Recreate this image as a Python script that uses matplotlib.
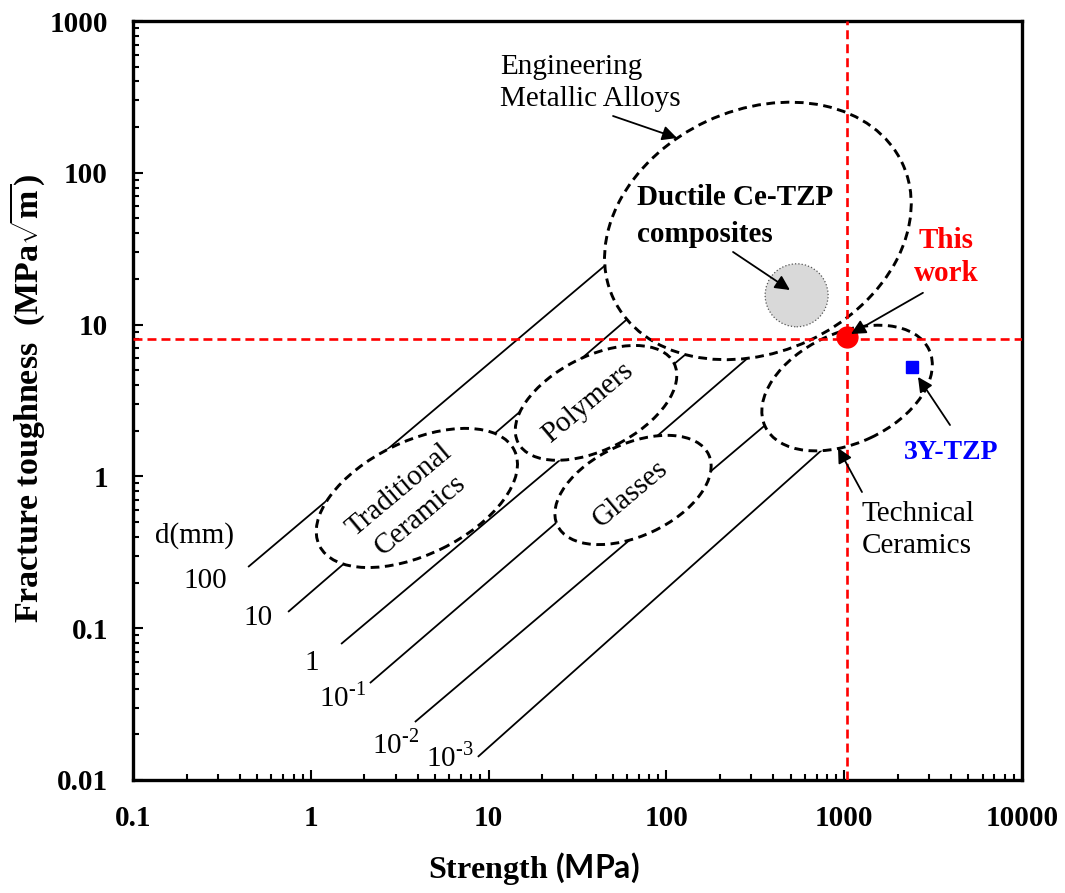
import numpy as np
import matplotlib.pyplot as plt
from matplotlib.patches import Ellipse
from matplotlib.ticker import NullFormatter
from matplotlib.transforms import ScaledTranslation

# =============================================================================
# Ashby-type map: fracture toughness vs strength
# =============================================================================

plt.rcParams["font.family"] = ["Liberation Serif", "DejaVu Serif"]
plt.rcParams["mathtext.fontset"] = "custom"
plt.rcParams["mathtext.rm"] = "Liberation Serif"
plt.rcParams["mathtext.bf"] = "Liberation Serif:bold"
plt.rcParams["mathtext.sf"] = "Lato:bold"

# -----------------------------
# Data
# -----------------------------
x_tick_values = [0.1, 1, 10, 100, 1000, 10000]
x_tick_labels = ["0.1", "1", "10", "100", "1000", "10000"]
y_tick_values = [0.01, 0.1, 1, 10, 100, 1000]
y_tick_labels = ["0.01", "0.1", "1", "10", "100", "1000"]

# material families (centre strength MPa, centre toughness MPa.m^0.5)
region_names = ["Engineering Metallic Alloys", "Polymers", "Traditional Ceramics",
                "Glasses", "Technical Ceramics"]
region_strength = [327, 40.2, 3.95, 64.9, 1038]
region_toughness = [41.4, 3.05, 0.721, 0.814, 3.82]

# flaw size lines d (mm): start and end points (strength, toughness)
d_labels = ["100", "10", "1", r"10$^{\text{-1}}$", r"10$^{\text{-2}}$", r"10$^{\text{-3}}$"]
d_start_strength = [0.444, 0.745, 1.48, 2.15, 3.85, 8.7]
d_start_tough = [0.253, 0.128, 0.0787, 0.0435, 0.0241, 0.0142]
d_end_strength = [47, 62, 135, 300, 380, 800]
d_end_tough = [25.5, 11.2, 6.7, 6.3, 2.3, 1.6]

# points
this_work = (1033, 8.3)
this_work_lines = (1033, 8.05)
y_tzp = (2415, 5.28)
ductile_ce_tzp = (540, 15.6)

# -----------------------------
# Figure
# -----------------------------
fig = plt.figure(figsize=(10.65, 8.93), dpi=100)
ax = fig.add_axes([133 / 1065, 113 / 893, 889 / 1065, 759 / 893])
ax.set_xscale("log")
ax.set_yscale("log")
ax.set_xlim(0.1, 10000)
ax.set_ylim(0.01, 1000)

# ellipse shape in pixels: width, height, angle
region_shape = [(319, 242, 25), (175, 93, 27), (217, 113, 26), (167, 92, 25), (181, 110, 25)]


def blob(x, y, w, h, ang, **kw):
    tr = fig.dpi_scale_trans + ScaledTranslation(x, y, ax.transData)
    return Ellipse((0, 0), w / 100, h / 100, angle=ang, transform=tr, **kw)


# flaw-size lines (drawn under the white-filled regions)
for i in range(len(d_labels)):
    ax.plot([d_start_strength[i], d_end_strength[i]], [d_start_tough[i], d_end_tough[i]],
            color="k", lw=1.3, zorder=1, solid_capstyle="butt")

for i in range(len(region_names)):
    w, h, ang = region_shape[i]
    ax.add_patch(blob(region_strength[i], region_toughness[i], w, h, ang,
                      facecolor="white", edgecolor="none", zorder=2))
for i in range(len(region_names)):
    w, h, ang = region_shape[i]
    ax.add_patch(blob(region_strength[i], region_toughness[i], w, h, ang,
                      facecolor="none", edgecolor="k", lw=2.1,
                      linestyle=(0, (3.0, 1.9)), zorder=3))

# red guide lines
ax.axvline(this_work_lines[0], color="red", lw=1.9, linestyle=(0, (3.4, 1.9)), zorder=4)
ax.axhline(this_work_lines[1], color="red", lw=1.9, linestyle=(0, (3.4, 1.9)), zorder=4)

# Ductile Ce-TZP composites (grey disc)
ax.add_patch(blob(ductile_ce_tzp[0], ductile_ce_tzp[1], 63, 63, 0,
                  facecolor="#d9d9d9", edgecolor="#555555", lw=0.9,
                  linestyle=":", zorder=5))

ax.plot(*this_work, "o", color="red", ms=15, zorder=6)
ax.plot(*y_tzp, "s", color="blue", ms=8, zorder=6)

# -----------------------------
# Labels and arrows
# -----------------------------
lab = dict(fontsize=21, zorder=7)
ax.text(11.6, 391, "Engineering\nMetallic Alloys", ha="left", va="center",
        linespacing=1.34, **lab)
ax.text(3.61, 0.668, "Traditional\nCeramics", ha="center", va="center",
        rotation=40, linespacing=1.3, **lab)
ax.text(36.2, 3.05, "Polymers", ha="center", va="center", rotation=40, **lab)
ax.text(62.4, 0.766, "Glasses", ha="center", va="center", rotation=40, **lab)
ax.text(1259, 0.444, "Technical\nCeramics", ha="left", va="center",
        linespacing=1.34, **lab)
ax.text(68.4, 51.9, "Ductile Ce-TZP\ncomposites", ha="left", va="center",
        fontweight="bold", fontsize=21, linespacing=1.5, zorder=7)
ax.text(3742, 27.9, "This\nwork", ha="center", va="center", color="red",
        fontweight="bold", fontsize=21, linespacing=1.3, zorder=7)
ax.text(3990, 1.43, "3Y-TZP", ha="center", va="center", color="blue",
        fontweight="bold", fontsize=20, zorder=7)

ax.text(0.223, 0.405, "d(mm)", ha="center", va="center", **lab)
d_label_x = [0.254, 0.505, 1.016, 1.50, 3.01, 6.07]
d_label_y = [0.2047, 0.1167, 0.059, 0.0352, 0.01726, 0.01419]
for i in range(len(d_labels)):
    ax.text(d_label_x[i], d_label_y[i], d_labels[i], ha="center", va="center", **lab)

arrows = [((50.1, 236.7), (114.8, 169.5)),
          ((237, 30.1), (495, 16.9)),
          ((2773, 16.2), (1091, 8.67)),
          ((3936, 2.18), (2600, 4.52)),
          ((1259, 0.789), (923, 1.54))]
for tail, head in arrows:
    ax.annotate("", xy=head, xytext=tail, zorder=8,
                arrowprops=dict(arrowstyle="-|>", color="k", lw=1.3,
                                mutation_scale=22, shrinkA=0, shrinkB=0))

# -----------------------------
# Axes styling
# -----------------------------
ax.set_xticks(x_tick_values)
ax.set_xticklabels(x_tick_labels, fontsize=21, fontweight="bold")
ax.set_yticks(y_tick_values)
ax.set_yticklabels(y_tick_labels, fontsize=21, fontweight="bold")
ax.xaxis.set_minor_formatter(NullFormatter())
ax.yaxis.set_minor_formatter(NullFormatter())
ax.tick_params(which="both", direction="in", top=False, right=False, width=1.5, pad=18)
ax.tick_params(which="major", length=7)
ax.tick_params(which="minor", length=4)
for sp in ax.spines.values():
    sp.set_linewidth(2.4)

ax.set_xlabel(r"Strength $\mathsf{(MPa)}$", fontsize=23, fontweight="bold")
ax.xaxis.set_label_coords(0.451, -0.092)
ax.set_ylabel(r"Fracture toughness  (MPa$\sqrt{\mathbf{m}}$)", fontsize=24.5,
              fontweight="bold")
ax.yaxis.set_label_coords(-0.097, 0.503)

fig.savefig("out.png", dpi=100)
